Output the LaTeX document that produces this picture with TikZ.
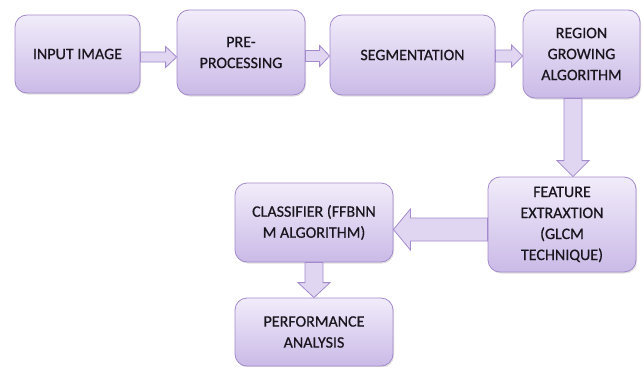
\documentclass[tikz,border=0pt]{standalone}
\usepackage{fontspec}
\setmainfont{Carlito}
\usetikzlibrary{calc}
\usetikzlibrary{shadows}

\definecolor{boxtop}{RGB}{241,236,250}
\definecolor{boxbot}{RGB}{202,186,231}
\definecolor{boxline}{RGB}{163,138,204}
\definecolor{arrfill}{RGB}{224,214,242}
\definecolor{txt}{RGB}{25,22,30}

\tikzset{
  box/.style={draw=boxline, line width=0.8pt, rounded corners=12pt,
    top color=boxtop, bottom color=boxbot, text=txt, align=center,
    inner sep=2pt, font=\fontsize{16}{21}\selectfont\addfontfeature{FakeBold=0.6},
    drop shadow={opacity=0.25, shadow xshift=1pt, shadow yshift=-1.5pt}},
  barrow/.style={draw=boxline, line width=0.8pt, fill=arrfill, line join=miter}
}

% block arrow: start, end, shaft half width, head half width, head length
\newcommand{\blockarrow}[5]{%
  \coordinate (hb) at ($(#2)!#5!(#1)$);
  \draw[barrow] ($(#1)!#3!90:(#2)$) -- ($(hb)!#3!90:(#2)$) -- ($(hb)!#4!90:(#2)$)
    -- (#2) -- ($(hb)!#4!-90:(#2)$) -- ($(hb)!#3!-90:(#2)$) -- ($(#1)!#3!-90:(#2)$) -- cycle;
}

\begin{document}
\begin{tikzpicture}[x=1pt,y=-1pt]
\useasboundingbox (0,0) rectangle (643,367);
% top row
\node[box, minimum width=125pt, minimum height=78pt] (in) at (77.5,54) {INPUT IMAGE};
\node[box, minimum width=128pt, minimum height=85pt] (pre) at (241,52.5) {PRE-\\PROCESSING};
\node[box, minimum width=165pt, minimum height=80pt] (seg) at (412.5,55) {SEGMENTATION};
\node[box, minimum width=117pt, minimum height=88pt] (reg) at (581.5,54) {REGION\\GROWING\\ALGORITHM};
% second row
\node[box, minimum width=148pt, minimum height=95pt] (feat) at (562,224.5) {FEATURE\\EXTRAXTION\\(GLCM\\TECHNIQUE)};
\node[box, minimum width=158pt, minimum height=79pt] (cls) at (314,222.5) {\fontsize{16}{17}\selectfont CLASSIFIER (FFBNN\\M ALGORITHM)};
% last
\node[box, minimum width=158pt, minimum height=68pt] (perf) at (314,332) {PERFORMANCE\\ANALYSIS};

% arrow ends
\coordinate (a1) at ([yshift=-3pt]in.east);
\coordinate (a1e) at (a1 -| pre.west);
\coordinate (a2) at ([yshift=-3.5pt]pre.east);
\coordinate (a2e) at (a2 -| seg.west);
\coordinate (a3) at ([yshift=-1pt]seg.east);
\coordinate (a3e) at (a3 -| reg.west);
\coordinate (a4) at ([xshift=-8.5pt]reg.south);
\coordinate (a4e) at (a4 |- feat.north);
\coordinate (a5) at ([yshift=-5pt]feat.west);
\coordinate (a5e) at (a5 -| cls.east);
\coordinate (a6) at (cls.south);
\coordinate (a6e) at (perf.north);

% arrows
\blockarrow{a1}{a1e}{5pt}{10.5pt}{11pt}
\blockarrow{a2}{a2e}{5.5pt}{10.5pt}{10pt}
\blockarrow{a3}{a3e}{6pt}{11pt}{11pt}
\blockarrow{a4}{a4e}{9pt}{16pt}{16pt}
\blockarrow{a5}{a5e}{11.5pt}{20.5pt}{17pt}
\blockarrow{a6}{a6e}{9pt}{16pt}{15pt}
\end{tikzpicture}
\end{document}
